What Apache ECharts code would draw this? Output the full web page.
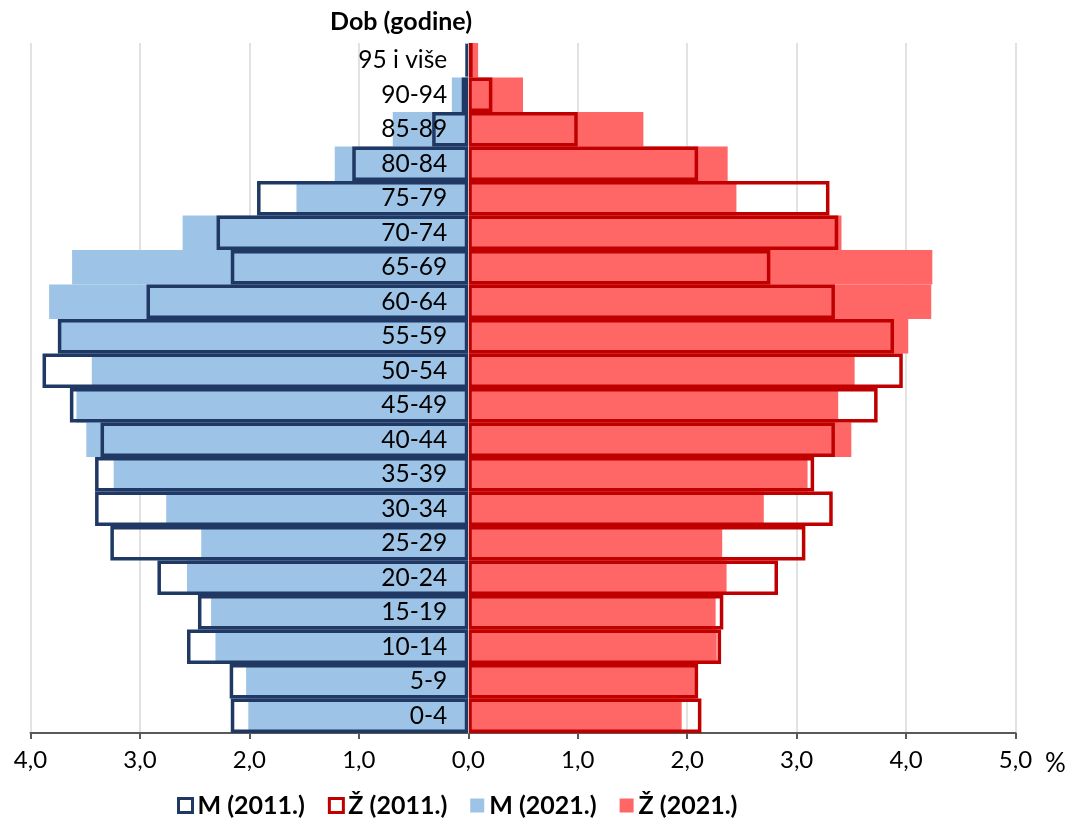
<!DOCTYPE html>
<html>
<head>
<meta charset="utf-8">
<script src="https://cdn.jsdelivr.net/npm/echarts@6/dist/echarts.min.js"></script>
<style>
html,body{margin:0;padding:0;background:#fff;}
#c{width:1077px;height:824px;}
</style>
</head>
<body>
<div id="c"></div>
<script>
// Age groups, bottom to top
const categories = ['0-4','5-9','10-14','15-19','20-24','25-29','30-34','35-39','40-44','45-49','50-54','55-59','60-64','65-69','70-74','75-79','80-84','85-89','90-94','95 i više'];
// Share of population in %, men (shown to the left) and women
const m2011 = [2.17,2.18,2.57,2.47,2.84,3.27,3.41,3.41,3.36,3.64,3.89,3.75,2.94,2.17,2.30,1.93,1.06,0.33,0.06,0.02];
const m2021 = [2.01,2.03,2.31,2.35,2.57,2.44,2.76,3.24,3.49,3.58,3.44,3.72,3.83,3.62,2.61,1.57,1.22,0.69,0.15,0.03];
const z2011 = [2.13,2.10,2.31,2.33,2.83,3.08,3.33,3.16,3.35,3.74,3.97,3.89,3.35,2.76,3.38,3.30,2.10,1.00,0.22,0.04];
const z2021 = [1.95,2.07,2.27,2.26,2.36,2.32,2.70,3.10,3.50,3.38,3.53,4.02,4.23,4.24,3.41,2.45,2.37,1.60,0.50,0.09];
const seriesNames = ['M (2011.)','Ž (2011.)','M (2021.)','Ž (2021.)'];
const axisTitle = 'Dob (godine)';
const unitLabel = '%';

const FONT = 'Lato';
const NAVY = '#1F3864';
const RED = '#C00000';
const LBLUE = '#9DC3E6';
const PINK = '#FF6666';

const GL = 30.5, GR = 61.5;
const plotW = 1077 - GL - GR;
const zeroOffset = plotW * 4 / 9;

const chart = echarts.init(document.getElementById('c'), null, {renderer:'canvas'});

const neg = a => a.map(v => -v);
const barBase = {type:'bar', barGap:'-100%', barCategoryGap:'0%'};

chart.setOption({
  animation:false,
  textStyle:{fontFamily:FONT},
  grid:{left:GL, right:GR, top:43, bottom:91, containLabel:false, outerBoundsMode:'none'},
  xAxis:{
    type:'value', min:-4, max:5, interval:1,
    axisLine:{show:true, lineStyle:{color:'#595959', width:2}},
    axisTick:{show:true, length:6, lineStyle:{color:'#595959', width:2}},
    axisLabel:{fontFamily:FONT, fontSize:24, color:'#000', margin:15,
      formatter:v => Math.abs(v).toFixed(1).replace('.', ',')},
    splitLine:{show:true, lineStyle:{color:'#d9d9d9', width:1.5}}
  },
  yAxis:{
    type:'category', data:categories, z:10,
    offset:-zeroOffset,
    axisLine:{show:true, onZero:false, lineStyle:{color:'#bfbfbf', width:1}},
    axisTick:{show:false},
    axisLabel:{fontFamily:FONT, fontSize:24.5, color:'#000', margin:21, align:'right'},
    splitLine:{show:false}
  },
  legend:{
    left:172, bottom:1, itemWidth:14, itemHeight:14, itemGap:23,
    textStyle:{fontFamily:FONT, fontSize:25, fontWeight:'bold', color:'#000'},
    data:[
      {name:seriesNames[0], icon:'rect', itemStyle:{color:'#fff', borderColor:NAVY, borderWidth:3}},
      {name:seriesNames[1], icon:'rect', itemStyle:{color:'#fff', borderColor:RED, borderWidth:3}},
      {name:seriesNames[2], icon:'rect', itemStyle:{color:LBLUE, borderWidth:0}},
      {name:seriesNames[3], icon:'rect', itemStyle:{color:PINK, borderWidth:0}}
    ]
  },
  graphic:[
    {type:'text', right:605, top:9, style:{text:axisTitle, font:'bold 25px '+FONT, fill:'#000'}},
    {type:'text', left:1045, top:751, style:{text:unitLabel, font:'26px '+FONT, fill:'#000'}}
  ],
  series:[
    Object.assign({}, barBase, {name:seriesNames[2], data:neg(m2021), itemStyle:{color:LBLUE}, z:2}),
    Object.assign({}, barBase, {name:seriesNames[3], data:z2021, itemStyle:{color:PINK}, z:2}),
    Object.assign({}, barBase, {name:seriesNames[0], data:neg(m2011), itemStyle:{color:'rgba(0,0,0,0)', borderColor:NAVY, borderWidth:3.5}, z:3}),
    Object.assign({}, barBase, {name:seriesNames[1], data:z2011, itemStyle:{color:'rgba(0,0,0,0)', borderColor:RED, borderWidth:3.5}, z:3})
  ]
});
</script>
</body>
</html>
